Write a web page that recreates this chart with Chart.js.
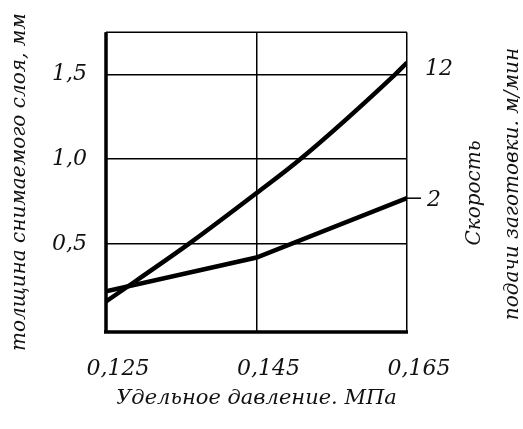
<!DOCTYPE html>
<html>
<head>
<meta charset="utf-8">
<script src="https://cdn.jsdelivr.net/npm/chart.js@4.4.1/dist/chart.umd.min.js"></script>
<style>
  html, body { margin: 0; padding: 0; background: #fff; }
  #wrap { width: 523px; height: 429px; position: relative; }
</style>
</head>
<body>
<div id="wrap"><canvas id="c" width="523" height="429"></canvas></div>
<script>
// ---- data ----
const xTicks = [0.125, 0.145, 0.165];
const xTickLabels = ['0,125', '0,145', '0,165'];
const yTicks = [0.5, 1.0, 1.5];
const yTickLabels = ['0,5', '1,0', '1,5'];

const seriesNames = ['12', '2'];
const xLine12 = [0.125, 0.136, 0.145, 0.1508, 0.1634, 0.165];
const yLine12 = [0.16, 0.50, 0.80, 1.00, 1.50, 1.57];
const xLine2 = [0.125, 0.145, 0.165];
const yLine2 = [0.22, 0.42, 0.77];

const xTitle = 'Удельное давление. МПа';
const yTitle = 'толщина снимаемого слоя, мм';
const rightTitle = ['Скорость', 'подачи заготовки. м/мин'];

const FONT = '"DejaVu Serif", serif';

function pts(xs, ys) { return xs.map((x, i) => ({ x: x, y: ys[i] })); }

const framePlugin = {
  id: 'frame',
  afterDatasetsDraw(chart) {
    const ctx = chart.ctx, a = chart.chartArea;
    ctx.save();
    ctx.strokeStyle = '#000';
    // thin top border
    ctx.lineWidth = 1.5;
    ctx.beginPath(); ctx.moveTo(a.left, a.top); ctx.lineTo(a.right, a.top); ctx.stroke();
    // thick left and bottom axes
    ctx.lineWidth = 3.5;
    ctx.beginPath();
    ctx.moveTo(a.left, a.top);
    ctx.lineTo(a.left, a.bottom + 1);
    ctx.moveTo(a.left - 2, a.bottom);
    ctx.lineTo(a.right + 1, a.bottom);
    ctx.stroke();

    // series labels
    ctx.fillStyle = '#111';
    ctx.font = 'italic 22px ' + FONT;
    ctx.textBaseline = 'middle';
    ctx.textAlign = 'left';
    const m0 = chart.getDatasetMeta(0).data;
    const p0 = m0[m0.length - 1];
    ctx.fillText(seriesNames[0], p0.x + 18, p0.y + 7);
    const m1 = chart.getDatasetMeta(1).data;
    const p1 = m1[m1.length - 1];
    ctx.lineWidth = 1.5;
    ctx.beginPath(); ctx.moveTo(p1.x, p1.y); ctx.lineTo(p1.x + 14, p1.y); ctx.stroke();
    ctx.fillText(seriesNames[1], p1.x + 20, p1.y + 2);

    // right titles, rotated to read bottom-to-top
    ctx.font = 'italic 20px ' + FONT;
    ctx.textAlign = 'center';
    ctx.save();
    ctx.translate(475, 193); ctx.rotate(-Math.PI / 2);
    ctx.fillText(rightTitle[0], 0, 0);
    ctx.restore();
    ctx.save();
    ctx.translate(513, 184); ctx.rotate(-Math.PI / 2);
    ctx.fillText(rightTitle[1], 0, 0);
    ctx.restore();
    ctx.restore();
  }
};

new Chart(document.getElementById('c'), {
  type: 'line',
  data: {
    datasets: [
      { label: seriesNames[0], data: pts(xLine12, yLine12), borderColor: '#000', borderWidth: 4.5, pointRadius: 0, cubicInterpolationMode: 'monotone', fill: false },
      { label: seriesNames[1], data: pts(xLine2, yLine2), borderColor: '#000', borderWidth: 4.5, pointRadius: 0, tension: 0, fill: false }
    ]
  },
  options: {
    responsive: false,
    animation: false,
    devicePixelRatio: 1,
    layout: { padding: { top: 28, right: 116, left: 0, bottom: 0 } },
    plugins: { legend: { display: false }, tooltip: { enabled: false } },
    scales: {
      x: {
        type: 'linear',
        min: 0.125, max: 0.165,
        afterBuildTicks: (ax) => { ax.ticks = xTicks.map(v => ({ value: v })); },
        afterFit: (s) => { s.height = 97; },
        ticks: {
          color: '#111',
          font: { family: FONT, size: 22, style: 'italic' },
          padding: 24,
          labelOffset: 12,
          maxRotation: 0,
          callback: (v) => { const i = xTicks.findIndex(t => Math.abs(t - v) < 1e-9); return i >= 0 ? xTickLabels[i] : ''; }
        },
        grid: { color: '#000', lineWidth: 1.5, drawTicks: false },
        border: { display: false },
        title: { display: true, text: xTitle, color: '#111', font: { family: FONT, size: 21, style: 'italic' }, padding: { top: 0, bottom: 18 } }
      },
      y: {
        type: 'linear',
        min: -0.02, max: 1.75,
        afterBuildTicks: (ax) => { ax.ticks = yTicks.map(v => ({ value: v })); },
        afterFit: (s) => { s.width = 106; },
        ticks: {
          color: '#111',
          font: { family: FONT, size: 22, style: 'italic' },
          padding: 19,
          callback: (v) => { const i = yTicks.findIndex(t => Math.abs(t - v) < 1e-9); return i >= 0 ? yTickLabels[i] : ''; }
        },
        grid: { color: '#000', lineWidth: 1.5, drawTicks: false },
        border: { display: false },
        title: { display: true, text: yTitle, color: '#111', font: { family: FONT, size: 20, style: 'italic' }, padding: { top: 8, bottom: 0 } }
      }
    }
  },
  plugins: [framePlugin]
});
</script>
</body>
</html>
